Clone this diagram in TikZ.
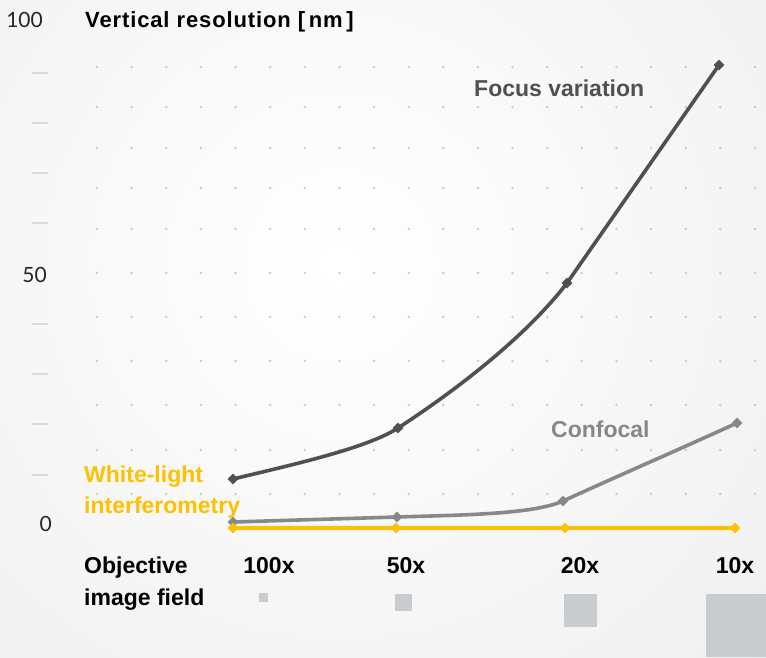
\documentclass[tikz,border=0pt]{standalone}
\usepackage{fontspec}
\setmainfont{Liberation Sans}
\newfontfamily\numfont{Lato}
\usetikzlibrary{shapes.geometric}
\definecolor{fvgray}{HTML}{505050}
\definecolor{cfgray}{HTML}{888888}
\definecolor{wlgold}{HTML}{FFC000}
\definecolor{fieldgray}{HTML}{C9CCCF}
\definecolor{dotgray}{HTML}{CBCBCB}
\definecolor{tickgray}{HTML}{DADADA}
\definecolor{bggray}{HTML}{EAEAEA}

\begin{document}
\begin{tikzpicture}[x=1pt,y=-1pt]
	\tikzstyle{every node}=[font=\fontsize{23}{27}\selectfont\bfseries, inner sep=0pt]
	\tikzstyle{numlab}=[font=\numfont\fontsize{21}{25}\selectfont, text=black!85, anchor=base east]
	\tikzstyle{serieslab}=[anchor=base west]
	\tikzstyle{fvmark}=[diamond, fill=fvgray, minimum size=11pt]
	\tikzstyle{cfmark}=[diamond, fill=cfgray, minimum size=11pt]
	\tikzstyle{wlmark}=[diamond, fill=wlgold, minimum size=11pt]
	\tikzstyle{series}=[line width=3.6pt, line join=round]
	\tikzstyle{field}=[fill=fieldgray, anchor=north west]
	\useasboundingbox (0,0) rectangle (766,657);
	\fill[bggray] (0,0) rectangle (766,657);
	\begin{scope}
		\clip (0,0) rectangle (766,657);
		\shade[inner color=white, outer color=bggray] (340,265) circle (820);
	\end{scope}

	\foreach \y in {67,107,148,188,229,273,317,361,405,450,494}
		\foreach \i in {0,...,19}
			\fill[dotgray] (97+34.63*\i,\y) circle (1.4);
	\foreach \y in {73,123,173,223,324,374,424,475}
		\draw[tickgray, line width=1.3pt] (32,\y) -- (48,\y);

	\node[numlab] (n100) at (43,27) {100};
	\node[numlab] (n50) at (47,282) {50};
	\node[numlab] (n0) at (52,531) {0};
	\node[serieslab, font=\fontsize{22}{26}\selectfont\bfseries\addfontfeatures{LetterSpace=4}] (title) at (85,27) {Vertical resolution [\,nm\,]};

	\coordinate (fv1) at (233,479);
	\coordinate (fv2) at (398,428);
	\coordinate (fv3) at (567,283);
	\coordinate (fv4) at (719,65);
	\coordinate (cf1) at (233,522);
	\coordinate (cf2) at (397,517);
	\coordinate (cf3) at (563,501);
	\coordinate (cf4) at (737,423);
	\coordinate (wl1) at (233,528);
	\coordinate (wl2) at (396,528);
	\coordinate (wl3) at (565,528);
	\coordinate (wl4) at (735,528);

	\draw[series, fvgray] (fv1) .. controls (300,463) and (368,447.5) .. (fv2) .. controls (452,393) and (525,338) .. (fv3) -- (fv4);
	\draw[series, cfgray] (cf1) -- (cf2) .. controls (460,515) and (533,514.5) .. (cf3) .. controls (620,475) and (680,449) .. (cf4);
	\draw[series, wlgold] (wl1) -- (wl4);
	\foreach \m in {fv1,fv2,fv3,fv4}
		\node[fvmark] at (\m) {};
	\foreach \m in {cf1,cf2,cf3,cf4}
		\node[cfmark] at (\m) {};
	\foreach \m in {wl1,wl2,wl3,wl4}
		\node[wlmark] at (\m) {};

	\node[serieslab, text=fvgray] (fvlab) at (474,96) {Focus variation};
	\node[serieslab, text=cfgray] (cflab) at (551,437) {Confocal};
	\node[serieslab, text=wlgold] (wllab1) at (84,482) {White-light};
	\node[serieslab, text=wlgold] (wllab2) at (84,513) {interferometry};

	\node[serieslab] (objlab1) at (84,573) {Objective};
	\node[serieslab] (objlab2) at (84,605) {image field};
	\node[anchor=base] (mag100) at (269,573) {100x};
	\node[anchor=base] (mag50) at (406,573) {50x};
	\node[anchor=base] (mag20) at (580,573) {20x};
	\node[anchor=base] (mag10) at (735,573) {10x};

	\node[field, minimum size=9pt] (f100) at (259,593) {};
	\node[field, minimum size=17pt] (f50) at (395,594) {};
	\node[field, minimum size=33pt] (f20) at (564,594) {};
	\node[field, minimum size=63pt] (f10) at (706,594) {};
\end{tikzpicture}
\end{document}
